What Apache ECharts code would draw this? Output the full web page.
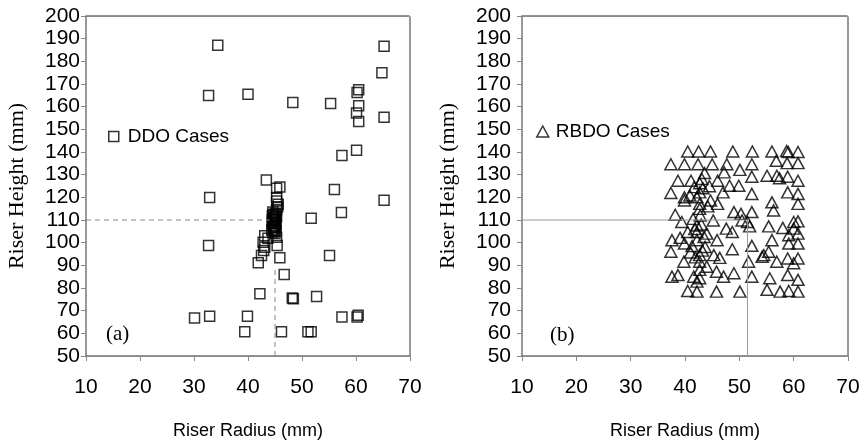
<!DOCTYPE html>
<html>
<head>
<meta charset="utf-8">
<script src="https://cdn.jsdelivr.net/npm/echarts@6/dist/echarts.min.js"></script>
<style>
  html, body { margin: 0; padding: 0; background: #fff; }
  #chart { width: 864px; height: 445px; }
</style>
</head>
<body>
<div id="chart"></div>
<script>
// axis ranges
const radiusRange = [10, 70];
const heightRange = [50, 200];

// (a) DDO cases: [radius, height]
const ddoPoints = [
  [34.4, 187.1], [65.2, 186.7], [64.8, 175.0], [32.7, 164.9], [40.0, 165.5],
  [48.3, 161.8], [55.3, 161.4], [60.2, 166.2], [60.5, 167.5], [60.5, 160.4],
  [60.1, 157.2], [60.5, 153.5], [65.2, 155.3], [60.1, 140.8], [57.4, 138.5],
  [43.4, 127.6], [45.9, 124.6], [45.3, 124.0], [56.0, 123.5], [32.9, 119.9],
  [65.2, 118.7], [45.3, 119.9], [45.3, 118.4], [45.6, 117.0], [45.5, 115.8],
  [57.3, 113.3], [51.7, 110.8],
  [44.6, 113.5], [44.8, 112.5], [45.0, 111.8], [44.7, 111.0], [45.1, 110.3],
  [44.6, 109.6], [44.9, 109.0], [45.2, 108.3], [44.7, 107.6], [45.0, 106.8],
  [44.8, 106.0], [45.2, 105.3], [44.6, 104.6], [45.0, 104.0], [45.3, 114.5],
  [44.5, 112.0], [44.5, 108.5], [44.4, 105.5], [45.1, 113.0], [44.9, 110.6],
  [45.1, 107.2], [44.9, 105.0], [45.3, 111.5], [44.5, 110.0],
  [43.1, 103.1], [43.7, 102.0], [45.3, 102.4], [42.8, 100.2], [43.1, 98.0],
  [42.9, 96.5], [42.5, 94.3], [41.9, 91.1], [45.4, 98.7], [32.7, 98.7],
  [45.9, 93.3], [55.1, 94.3], [46.7, 86.0], [42.2, 77.5], [48.2, 75.6],
  [48.4, 75.3], [52.7, 76.3], [30.1, 66.8], [32.9, 67.5], [39.9, 67.5],
  [39.4, 60.7], [46.2, 60.7], [51.1, 60.7], [51.7, 60.7], [57.4, 67.2],
  [60.2, 67.2], [60.4, 68.0]
];

// (b) RBDO cases: [radius, height]
const rbdoPoints = [
  [40.5, 140.2], [42.5, 140.2], [44.7, 140.2], [48.8, 140.2], [52.4, 140.2],
  [56.0, 140.2], [58.7, 140.4], [59.0, 140.0], [60.8, 140.0],
  [37.4, 134.6], [39.9, 134.6], [42.4, 134.6], [45.0, 134.6], [47.7, 134.6],
  [52.3, 134.6], [56.8, 136.1], [58.8, 135.1], [60.8, 135.1],
  [43.6, 130.7], [47.2, 131.0], [50.1, 132.1], [52.3, 129.1], [55.1, 129.5],
  [56.9, 129.5], [57.4, 128.4], [58.9, 129.1],
  [38.7, 127.3], [41.1, 127.3], [43.1, 128.1], [46.0, 127.3], [60.8, 127.3],
  [44.5, 124.9], [48.2, 125.1], [49.9, 125.1], [42.7, 126.2],
  [37.4, 121.9], [40.9, 120.8], [42.7, 122.2], [47.0, 122.2], [52.3, 121.5],
  [58.9, 122.2], [60.8, 121.5], [39.9, 120.0], [42.2, 120.0],
  [39.9, 118.6], [44.7, 118.6], [42.7, 117.1], [46.0, 117.1], [56.0, 117.8],
  [60.8, 117.1], [56.3, 114.2], [42.7, 114.9],
  [38.2, 112.3], [49.0, 113.5], [50.3, 112.7], [52.3, 113.5], [42.8, 112.0],
  [39.4, 109.1], [45.2, 109.8], [51.5, 109.1], [50.5, 109.8], [60.0, 109.1],
  [60.8, 109.4], [42.2, 107.6], [51.9, 107.2], [55.4, 107.2],
  [47.6, 106.2], [58.0, 106.5], [60.0, 106.2],
  [40.5, 104.7], [42.2, 104.7], [44.0, 104.0], [48.7, 104.7],
  [39.1, 102.1], [60.8, 104.0], [59.1, 103.3],
  [37.6, 101.1], [42.2, 101.1], [45.9, 101.1], [56.0, 101.1], [59.1, 99.6],
  [60.8, 99.6], [39.9, 99.6], [43.7, 98.1], [52.3, 98.6],
  [37.4, 96.0], [41.0, 95.7], [42.7, 94.5], [48.7, 97.1], [55.4, 96.0],
  [45.3, 94.5], [54.5, 94.5], [46.4, 93.3], [54.2, 93.8],
  [39.8, 91.6], [42.7, 91.6], [51.7, 91.6], [56.9, 91.6], [58.9, 93.0],
  [60.0, 90.9], [60.8, 93.0], [44.0, 89.4], [42.7, 88.0], [45.8, 87.2],
  [37.6, 85.0], [38.7, 85.7], [41.6, 85.0], [42.7, 84.3], [47.1, 85.0],
  [49.0, 86.5], [52.3, 85.0], [55.6, 84.3], [58.9, 85.7], [60.8, 83.6],
  [42.2, 82.8],
  [40.5, 78.7], [42.2, 78.4], [45.8, 78.4], [50.1, 78.4], [55.1, 79.2],
  [57.5, 78.4], [59.1, 78.7], [60.8, 78.4],
  [41.5, 110.5], [43.0, 108.0], [41.8, 106.0], [43.5, 102.5], [41.3, 98.5],
  [43.2, 96.5], [41.9, 93.5], [43.3, 124.0], [41.7, 124.5], [44.2, 116.0]
];

// guide lines
const ddoGuideH = [[10, 110], [44, 110]];
const ddoGuideV = [[45, 50], [45, 89]];
const rbdoGuideH = [[10, 110], [51.5, 110]];
const rbdoGuideV = [[51.5, 50], [51.5, 110]];

const sans = 'Liberation Sans, Arial, sans-serif';
const serif = 'Liberation Serif, Times New Roman, serif';
const frameLine = { color: '#666', width: 1.5, type: [1, 1] };

function xAxisMain(gi) {
  return {
    gridIndex: gi, type: 'value', min: radiusRange[0], max: radiusRange[1], interval: 10,
    name: 'Riser Radius (mm)', nameLocation: 'middle', nameGap: 66,
    nameTextStyle: { fontFamily: sans, fontSize: 18, color: '#000' },
    axisLine: { onZero: false, lineStyle: frameLine },
    axisTick: { show: true, length: 5, lineStyle: { color: '#888' } },
    axisLabel: { fontFamily: sans, fontSize: 21, color: '#000', margin: 21 },
    splitLine: { show: false }
  };
}
function yAxisMain(gi, labelMargin, nameGap) {
  return {
    gridIndex: gi, type: 'value', min: heightRange[0], max: heightRange[1], interval: 10,
    name: 'Riser Height (mm)', nameLocation: 'middle', nameGap: nameGap,
    nameTextStyle: { fontFamily: serif, fontSize: 22, color: '#000' },
    axisLine: { onZero: false, lineStyle: frameLine },
    axisTick: { show: true, length: 5, lineStyle: { color: '#888' } },
    axisLabel: { fontFamily: sans, fontSize: 21, color: '#000', margin: labelMargin },
    splitLine: { show: false }
  };
}
function frameAxis(gi, pos, range) {
  return {
    gridIndex: gi, type: 'value', position: pos, min: range[0], max: range[1],
    axisLine: { show: true, onZero: false, lineStyle: frameLine },
    axisTick: { show: false }, axisLabel: { show: false }, splitLine: { show: false }
  };
}

const chart = echarts.init(document.getElementById('chart'));
chart.setOption({
  animation: false,
  grid: [
    { left: 86, top: 16, width: 324, height: 342 },
    { left: 522, top: 16, width: 326, height: 342 }
  ],
  xAxis: [
    xAxisMain(0), xAxisMain(1),
    frameAxis(0, 'top', radiusRange), frameAxis(1, 'top', radiusRange)
  ],
  yAxis: [
    yAxisMain(0, 6, 58), yAxisMain(1, 11, 63),
    frameAxis(0, 'right', heightRange), frameAxis(1, 'right', heightRange)
  ],
  legend: [
    {
      left: 103, top: 122, itemWidth: 10, itemHeight: 10,
      textStyle: { fontFamily: sans, fontSize: 19, color: '#000', padding: [0, 0, 0, 4] },
      data: [{ name: 'DDO Cases', icon: 'rect',
        itemStyle: { color: 'rgba(0,0,0,0)', borderColor: '#000', borderWidth: 1.5 } }]
    },
    {
      left: 531, top: 117, itemWidth: 12, itemHeight: 11,
      textStyle: { fontFamily: sans, fontSize: 19, color: '#000', padding: [0, 0, 0, 2] },
      data: [{ name: 'RBDO Cases', icon: 'triangle',
        itemStyle: { color: 'rgba(0,0,0,0)', borderColor: '#000', borderWidth: 1.5 } }]
    }
  ],
  graphic: [
    { type: 'text', left: 106, top: 324, style: { text: '(a)', font: '21px ' + serif, fill: '#000' } },
    { type: 'text', left: 550, top: 325, style: { text: '(b)', font: '21px ' + serif, fill: '#000' } }
  ],
  series: [
    { type: 'line', xAxisIndex: 0, yAxisIndex: 0, data: ddoGuideH, symbol: 'none', silent: true,
      lineStyle: { color: '#888', width: 1, type: [5, 4] } },
    { type: 'line', xAxisIndex: 0, yAxisIndex: 0, data: ddoGuideV, symbol: 'none', silent: true,
      lineStyle: { color: '#888', width: 1, type: [5, 4] } },
    { type: 'line', xAxisIndex: 1, yAxisIndex: 1, data: rbdoGuideH, symbol: 'none', silent: true,
      lineStyle: { color: '#999', width: 1 } },
    { type: 'line', xAxisIndex: 1, yAxisIndex: 1, data: rbdoGuideV, symbol: 'none', silent: true,
      lineStyle: { color: '#999', width: 1 } },
    {
      name: 'DDO Cases', type: 'scatter', xAxisIndex: 0, yAxisIndex: 0,
      data: ddoPoints, symbol: 'rect', symbolSize: 10,
      itemStyle: { color: 'rgba(0,0,0,0)', borderColor: '#000', borderWidth: 1.5 }
    },
    {
      name: 'RBDO Cases', type: 'scatter', xAxisIndex: 1, yAxisIndex: 1,
      data: rbdoPoints, symbol: 'triangle', symbolSize: [12, 11],
      itemStyle: { color: 'rgba(0,0,0,0)', borderColor: '#000', borderWidth: 1.5 }
    }
  ]
});
</script>
</body>
</html>
